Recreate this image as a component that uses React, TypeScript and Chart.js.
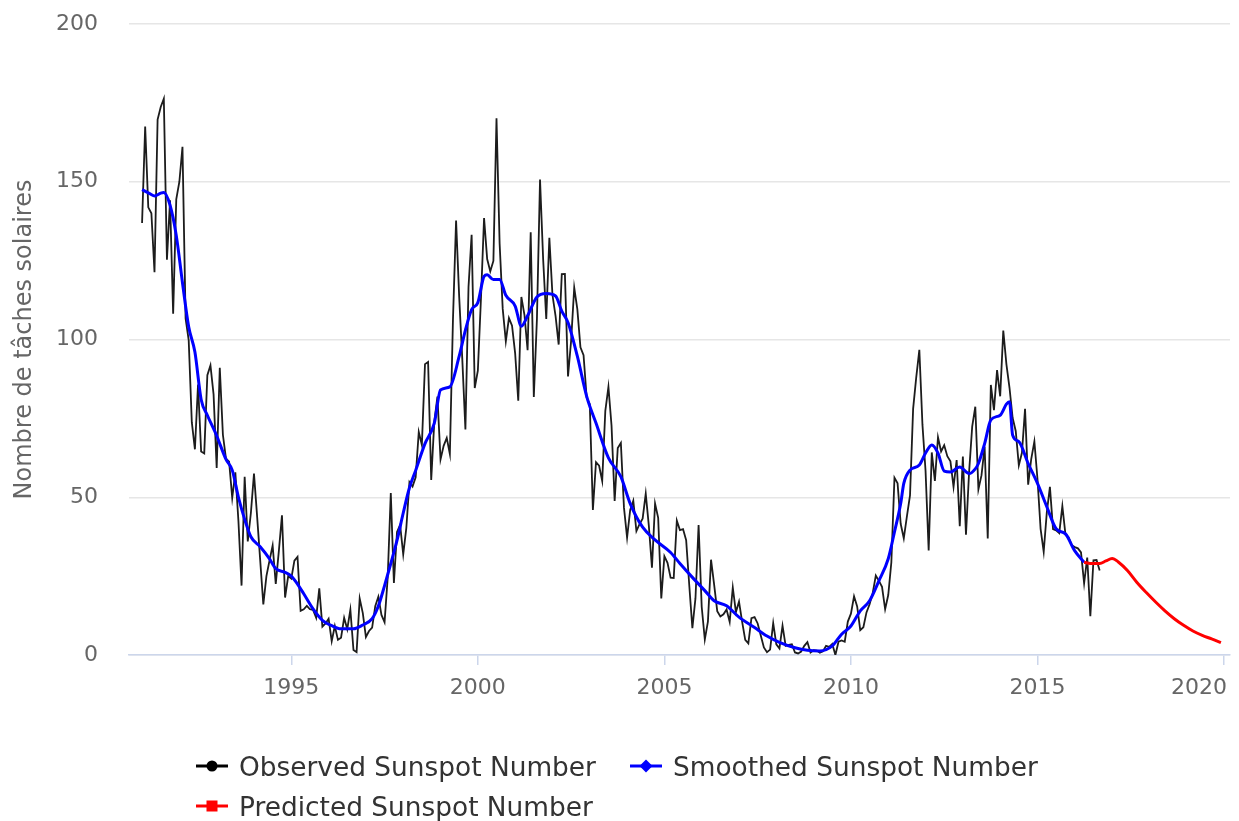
import React, { useEffect, useRef } from "react";
import { Chart, registerables } from "chart.js";

Chart.register(...registerables);

// Month index 0 = January 1991
const START_YEAR = 1991;

const observedValues = [
  // 1991
  136.9, 167.5, 141.9, 140.0, 121.3, 169.7, 173.7, 176.3, 125.3, 144.1, 108.2, 144.4,
  // 1992
  150.0, 161.1, 106.7, 99.8, 73.8, 65.2, 85.7, 64.5, 63.9, 88.7, 91.8, 82.6,
  // 1993
  59.3, 91.0, 69.8, 62.2, 61.3, 49.8, 57.9, 42.4, 22.0, 56.5, 36.0, 45.0,
  // 1994
  57.5, 44.0, 30.0, 16.0, 25.0, 30.0, 34.7, 22.5, 33.0, 44.3, 18.2, 25.0,
  // 1995
  24.2, 29.9, 31.1, 14.0, 14.5, 15.6, 14.5, 14.3, 11.8, 21.1, 9.0, 10.0,
  // 1996
  11.5, 4.4, 9.2, 4.8, 5.5, 11.8, 8.2, 14.4, 1.6, 0.9, 17.9, 13.3,
  // 1997
  5.7, 7.6, 8.7, 15.5, 18.5, 12.7, 10.4, 24.4, 51.3, 22.8, 39.0, 41.2,
  // 1998
  31.9, 40.3, 54.8, 53.4, 56.3, 70.7, 66.6, 92.2, 92.9, 55.5, 74.0, 81.9,
  // 1999
  62.0, 66.3, 68.8, 63.7, 106.4, 137.7, 113.5, 93.7, 71.5, 116.7, 133.2, 84.6,
  // 2000
  90.1, 112.9, 138.5, 125.5, 121.6, 124.9, 170.1, 130.5, 109.7, 99.4, 106.8, 104.4,
  // 2001
  95.6, 80.6, 113.5, 107.7, 96.6, 134.0, 81.8, 106.4, 150.7, 125.5, 106.5, 132.2,
  // 2002
  114.1, 107.4, 98.4, 120.7, 120.8, 88.3, 99.6, 116.4, 109.6, 97.5, 95.0, 81.6,
  // 2003
  79.5, 46.0, 61.1, 60.0, 55.2, 77.4, 85.0, 72.7, 48.8, 65.6, 67.2, 46.7,
  // 2004
  37.2, 46.0, 48.9, 39.3, 41.5, 43.2, 51.1, 40.9, 27.7, 48.0, 43.5, 17.9,
  // 2005
  31.3, 29.2, 24.5, 24.4, 42.6, 39.6, 39.9, 36.4, 22.1, 8.5, 18.0, 41.2,
  // 2006
  15.3, 4.9, 10.6, 30.2, 22.3, 13.9, 12.2, 12.9, 14.4, 10.5, 21.4, 13.6,
  // 2007
  16.9, 10.6, 4.8, 3.7, 11.7, 12.0, 10.0, 6.2, 2.4, 0.9, 1.7, 10.1,
  // 2008
  3.4, 2.1, 9.3, 2.9, 3.2, 3.4, 0.8, 0.5, 1.1, 2.9, 4.1, 0.8,
  // 2009
  1.5, 1.4, 0.7, 1.2, 2.9, 2.6, 3.5, 0.0, 4.2, 4.6, 4.2, 10.6,
  // 2010
  13.1, 18.6, 15.4, 7.9, 8.8, 13.5, 16.1, 19.6, 25.2, 23.5, 21.6, 14.5,
  // 2011
  19.0, 29.4, 56.2, 54.4, 41.6, 37.0, 43.9, 50.6, 78.0, 88.0, 96.7, 73.0,
  // 2012
  58.3, 33.1, 64.2, 55.2, 69.0, 64.5, 66.5, 63.0, 61.4, 53.3, 61.8, 40.8,
  // 2013
  62.9, 38.1, 57.9, 72.4, 78.7, 52.5, 57.0, 66.0, 36.9, 85.6, 77.6, 90.3,
  // 2014
  82.0, 102.8, 92.2, 84.7, 75.2, 71.0, 60.1, 64.1, 78.0, 54.0, 62.2, 67.7,
  // 2015
  55.8, 40.0, 32.7, 45.2, 53.3, 39.9, 39.5, 38.6, 47.2, 38.2, 37.3, 34.8,
  // 2016
  34.2, 33.8, 32.5, 22.7, 30.9, 12.3, 30.0, 30.1, 26.8,
];

const smoothedMonths = [
  0, 2, 4, 6, 7, 9, 11, 13, 15, 17, 19, 21, 24, 27, 29, 31, 33, 35, 38, 41, 43, 46, 48, 50, 52, 55, 58,
  61, 64, 68, 71, 74, 76, 78, 80, 82, 84, 86, 88, 91, 94, 96, 99, 102, 104, 106, 108, 110, 111, 113,
  115, 117, 120, 122, 124, 127, 130, 133, 135, 137, 140, 143, 146, 150, 154, 157, 161, 165, 170, 173,
  177, 181, 184, 188, 192, 197, 201, 205, 210, 214, 218, 222, 225, 228, 231, 234, 237, 240, 242, 244,
  245, 247, 250, 252, 254, 256, 258, 260, 263, 266, 268, 269, 271, 273, 276, 278, 279, 280, 282, 285,
  288, 291, 294, 297, 300, 303,
];
const smoothedValues = [
  147.5, 146.5, 145.5, 146.4, 146.6, 142.6, 133, 118, 104, 96, 81, 76, 69.5, 62, 58.6, 50, 43, 37.5,
  34.3, 30.5, 27.4, 26.2, 25, 22.5, 19.4, 14.6, 11, 9.3, 8.3, 8.3, 9.5, 11.5, 15.5, 22, 29, 36.3, 45,
  53, 58.5, 67, 73.5, 84, 85, 94.7, 103, 109.5, 111.7, 120, 120.5, 119, 119, 114, 110.6, 104.2, 107.5,
  113.5, 114.6, 113.8, 109, 105.4, 94.7, 82, 73.5, 62.5, 56.5, 48, 40.5, 36.5, 32.5, 29, 24.6, 20.4,
  17.2, 15.6, 12, 8.7, 6, 4, 2.3, 1.5, 1.3, 2.9, 6.6, 9.2, 14, 17.2, 23.5, 30.5, 39, 48, 54.4, 58.6,
  60.2, 64, 66.6, 64, 58.3, 58, 59.6, 57.5, 59, 60.7, 67, 74.5, 76, 79.5, 80.3, 69.7, 67.6, 60.7,
  54.4, 47, 40, 38.4, 33, 29.4,
];

const predictedMonths = [303, 305, 308, 310, 312, 314, 317, 320, 323, 326, 329, 332, 335, 338, 341, 344, 347];
const predictedValues = [29.4, 29.0, 29.0, 29.8, 30.6, 29.5, 26.7, 23.0, 19.8, 16.8, 14.0, 11.5, 9.4, 7.6, 6.2, 5.1, 3.9];

const yTickValues = [0, 50, 100, 150, 200];
const xTickYears = [1995, 2000, 2005, 2010, 2015, 2020];
const X_MIN = 1990.65;
const X_MAX = 2020.16;

const seriesNames = ["Observed Sunspot Number", "Smoothed Sunspot Number", "Predicted Sunspot Number"];
const seriesColors = ["#000000", "#0000ff", "#ff0000"];

const FONT = "'DejaVu Sans', Verdana, sans-serif";

const monthToYear = (m: number) => START_YEAR + m / 12;

const xLabelsPlugin = {
  id: "xLabels",
  afterDraw(chart: any) {
    const scale = chart.scales.x;
    const ctx = chart.ctx;
    ctx.save();
    ctx.font = `22px ${FONT}`;
    ctx.fillStyle = "#666666";
    ctx.textAlign = "center";
    ctx.textBaseline = "middle";
    const maxRight = chart.width - 12;
    xTickYears.forEach((yr) => {
      let x = scale.getPixelForValue(yr);
      const w = ctx.measureText(String(yr)).width;
      if (x + w / 2 > maxRight) x = maxRight - w / 2;
      ctx.fillText(String(yr), x, 688);
    });
    ctx.restore();
  },
};

function LegendSymbol({ kind, color }: { kind: string; color: string }) {
  return (
    <svg width="34" height="16" style={{ display: "block" }}>
      <line x1="1" y1="8" x2="33" y2="8" stroke={color} strokeWidth="3" />
      {kind === "circle" && <circle cx="17" cy="8" r="5.5" fill={color} />}
      {kind === "diamond" && <polygon points="17,1.5 23.5,8 17,14.5 10.5,8" fill={color} />}
      {kind === "square" && <rect x="11.5" y="2.5" width="11" height="11" fill={color} />}
    </svg>
  );
}

function LegendItem({ left, top, kind, color, label }: any) {
  return (
    <div
      style={{
        position: "absolute",
        left,
        top,
        height: 30,
        display: "flex",
        alignItems: "center",
        fontFamily: FONT,
        fontSize: 26.4,
        color: "#333333",
        whiteSpace: "nowrap",
      }}
    >
      <LegendSymbol kind={kind} color={color} />
      <span style={{ marginLeft: 10 }}>{label}</span>
    </div>
  );
}

export default function App() {
  const canvasRef = useRef<HTMLCanvasElement | null>(null);

  useEffect(() => {
    if (!canvasRef.current) return;
    const observed = observedValues.map((v, i) => ({ x: monthToYear(i), y: v }));
    const smoothed = smoothedMonths.map((m, i) => ({ x: monthToYear(m), y: smoothedValues[i] }));
    const predicted = predictedMonths.map((m, i) => ({ x: monthToYear(m), y: predictedValues[i] }));

    const chart = new Chart(canvasRef.current, {
      type: "line",
      data: {
        datasets: [
          {
            label: seriesNames[0],
            data: observed,
            borderColor: "#1c1c1c",
            borderWidth: 1.8,
            pointRadius: 0,
            tension: 0,
            order: 2,
          },
          {
            label: seriesNames[1],
            data: smoothed,
            borderColor: seriesColors[1],
            borderWidth: 3,
            pointRadius: 0,
            cubicInterpolationMode: "monotone",
            order: 1,
          },
          {
            label: seriesNames[2],
            data: predicted,
            borderColor: seriesColors[2],
            borderWidth: 3,
            pointRadius: 0,
            cubicInterpolationMode: "monotone",
            order: 0,
          },
        ],
      },
      options: {
        animation: false,
        responsive: false,
        maintainAspectRatio: false,
        layout: { padding: { left: 0, right: 9, top: 24, bottom: 0 } },
        plugins: {
          legend: { display: false },
          tooltip: { enabled: false },
        },
        scales: {
          x: {
            type: "linear",
            min: X_MIN,
            max: X_MAX,
            afterBuildTicks: (axis: any) => {
              axis.ticks = xTickYears.map((v) => ({ value: v }));
            },
            afterFit: (scale: any) => {
              scale.height = 821 - 655;
              scale.paddingLeft = 0;
              scale.paddingRight = 0;
              scale.paddingTop = 0;
              scale.paddingBottom = 0;
            },
            ticks: { display: false },
            grid: {
              display: true,
              drawOnChartArea: false,
              drawTicks: true,
              tickLength: 10,
              color: "#ccd6eb",
              lineWidth: 1.5,
            },
            border: { display: true, color: "#ccd6eb", width: 1.5 },
          },
          y: {
            type: "linear",
            min: 0,
            max: 200,
            afterBuildTicks: (axis: any) => {
              axis.ticks = yTickValues.map((v) => ({ value: v }));
            },
            afterFit: (scale: any) => {
              scale.width = 129;
              scale.paddingTop = 0;
              scale.paddingBottom = 0;
              scale.paddingLeft = 0;
              scale.paddingRight = 0;
            },
            ticks: {
              padding: 31,
              color: "#666666",
              font: { family: FONT, size: 22 },
            },
            grid: {
              color: "#e6e6e6",
              lineWidth: 1.5,
              drawTicks: false,
            },
            border: { display: false },
            title: {
              display: true,
              text: "Nombre de tâches solaires",
              color: "#666666",
              font: { family: FONT, size: 24 },
              padding: { top: 10, bottom: 0 },
            },
          },
        },
      },
      plugins: [xLabelsPlugin],
    });
    return () => chart.destroy();
  }, []);

  return (
    <div style={{ position: "absolute", left: 0, top: 0, width: 1239, height: 821, background: "#ffffff" }}>
      <canvas ref={canvasRef} width={1239} height={821} style={{ position: "absolute", left: 0, top: 0 }} />
      <LegendItem left={195} top={751} kind="circle" color={seriesColors[0]} label={seriesNames[0]} />
      <LegendItem left={629} top={751} kind="diamond" color={seriesColors[1]} label={seriesNames[1]} />
      <LegendItem left={195} top={791} kind="square" color={seriesColors[2]} label={seriesNames[2]} />
    </div>
  );
}
